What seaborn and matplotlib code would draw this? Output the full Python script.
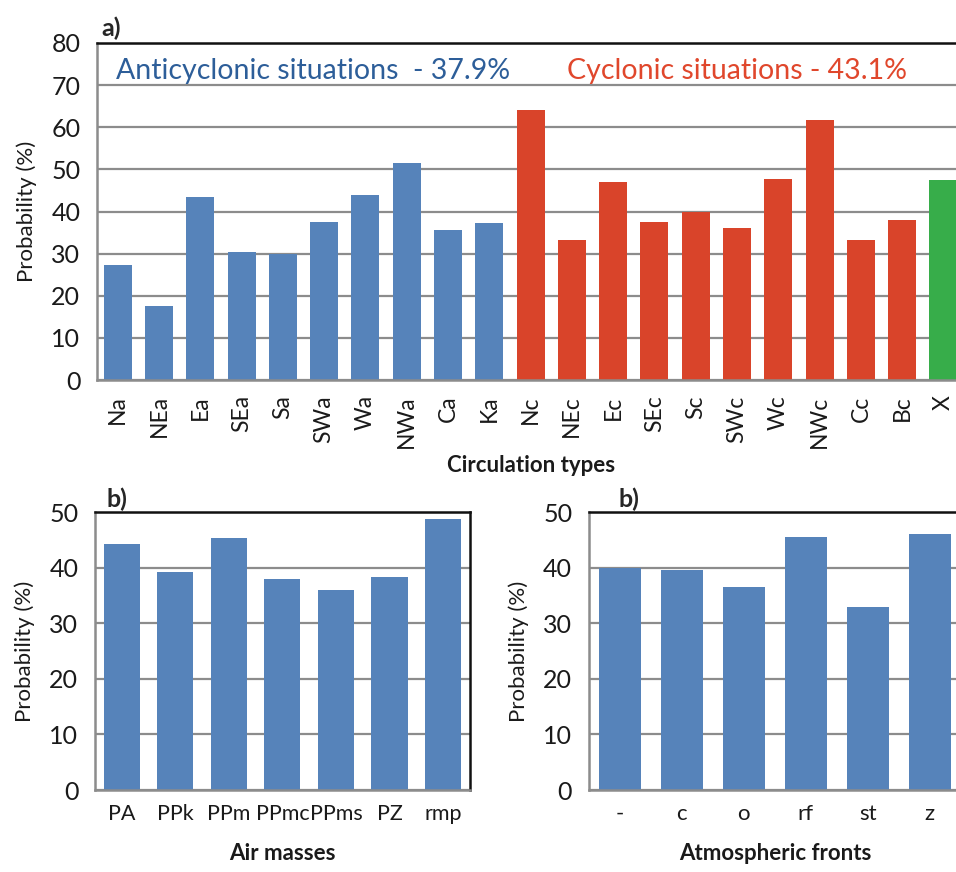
import matplotlib
matplotlib.use("Agg")
import matplotlib.pyplot as plt
import seaborn as sns
import numpy as np
import pandas as pd

sns.set_style("white")
plt.rcParams['font.family'] = ['Lato', 'DejaVu Sans']

# a) circulation types
circ_types = ['Na', 'NEa', 'Ea', 'SEa', 'Sa', 'SWa', 'Wa', 'NWa', 'Ca', 'Ka',
              'Nc', 'NEc', 'Ec', 'SEc', 'Sc', 'SWc', 'Wc', 'NWc', 'Cc', 'Bc', 'X']
circ_prob = [27.4, 17.5, 43.5, 30.3, 29.9, 37.6, 44.0, 51.5, 35.7, 37.2,
             64.2, 33.2, 47.0, 37.5, 39.9, 36.2, 47.6, 61.8, 33.2, 38.0, 47.4]
circ_group = ['anti'] * 10 + ['cyc'] * 10 + ['x']

# b) air masses
air_masses = ['PA', 'PPk', 'PPm', 'PPmc', 'PPms', 'PZ', 'rmp']
air_prob = [44.3, 39.3, 45.4, 37.9, 36.0, 38.4, 48.8]

# b) atmospheric fronts
fronts = ['-', 'c', 'o', 'rf', 'st', 'z']
front_prob = [40.0, 39.5, 36.6, 45.6, 33.0, 46.1]

blue = '#5683BA'
red = '#D9442A'
green = '#37AD4A'
grid_c = '#8c8c8c'
txt_c = '#1a1a1a'


def style_axis(ax, n, ymax, step, right_spine=True):
    ax.set_ylim(0, ymax)
    ax.set_xlim(-0.5, n - 0.5)
    ax.set_yticks(np.arange(0, ymax + 1, step))
    ax.set_axisbelow(True)
    ax.yaxis.grid(True, color=grid_c, lw=1.6)
    ax.xaxis.grid(False)
    ax.set_xticks(np.arange(-0.5, n, 1.0), minor=True)
    ax.tick_params(axis='x', which='major', length=0, pad=10, labelsize=16, colors=txt_c)
    ax.tick_params(axis='x', which='minor', length=7, width=1.6, color=grid_c)
    ax.tick_params(axis='y', length=9, width=1.6, color=grid_c, labelsize=18,
                   labelcolor=txt_c, pad=3)
    for s in ['left', 'bottom']:
        ax.spines[s].set_color(grid_c)
        ax.spines[s].set_linewidth(1.8)
    ax.spines['top'].set_color('#111111')
    ax.spines['top'].set_linewidth(1.8)
    ax.spines['right'].set_visible(right_spine)
    ax.spines['right'].set_color('#111111')
    ax.spines['right'].set_linewidth(1.8)
    ax.set_ylabel('Probability (%)', fontsize=16, color=txt_c, labelpad=10)
    for p in ax.patches:
        p.set_edgecolor('none')
        p.set_linewidth(0)


fig = plt.figure(figsize=(9.56, 8.72), dpi=100)

# top panel
ax1 = fig.add_axes([0.1015, 0.5642, 0.907, 0.3865])
df1 = pd.DataFrame({'type': circ_types, 'prob': circ_prob, 'group': circ_group})
sns.barplot(data=df1, x='type', y='prob', hue='group', dodge=False, width=0.68,
            saturation=1, palette={'anti': blue, 'cyc': red, 'x': green},
            legend=False, ax=ax1)
style_axis(ax1, len(circ_types), 80, 10, right_spine=False)
ax1.tick_params(axis='x', which='major', rotation=90, pad=11, labelsize=16.5)
ax1.set_xlabel('Circulation types', fontsize=16, fontweight='bold', color=txt_c, labelpad=5)
ax1.text(-0.04, 73.3, 'Anticyclonic situations  - 37.9%', color='#2D5E99',
         fontsize=20.5, va='center', ha='left')
ax1.text(10.88, 73.3, 'Cyclonic situations - 43.1%', color='#E0472C',
         fontsize=20.5, va='center', ha='left')
ax1.text(0.005, 1.01, 'a)', transform=ax1.transAxes, fontsize=18, fontweight='bold',
         va='bottom', ha='left')

# bottom left
ax2 = fig.add_axes([0.0994, 0.094, 0.392, 0.3188])
sns.barplot(x=air_masses, y=air_prob, color=blue, saturation=1, width=0.675, ax=ax2)
style_axis(ax2, len(air_masses), 50, 10)
ax2.tick_params(axis='x', which='major', labelsize=15.5)
ax2.set_xlabel('Air masses', fontsize=16, fontweight='bold', color=txt_c, labelpad=14)
ax2.text(0.03, 1.005, 'b)', transform=ax2.transAxes, fontsize=18, fontweight='bold',
         va='bottom', ha='left')

# bottom right
ax3 = fig.add_axes([0.616, 0.094, 0.389, 0.3188])
sns.barplot(x=fronts, y=front_prob, color=blue, saturation=1, width=0.67, ax=ax3)
style_axis(ax3, len(fronts), 50, 10, right_spine=False)
ax3.set_xlabel('Atmospheric fronts', fontsize=16, fontweight='bold', color=txt_c, labelpad=14)
ax3.text(0.08, 1.005, 'b)', transform=ax3.transAxes, fontsize=18, fontweight='bold',
         va='bottom', ha='left')

fig.savefig('out.png', dpi=100)
